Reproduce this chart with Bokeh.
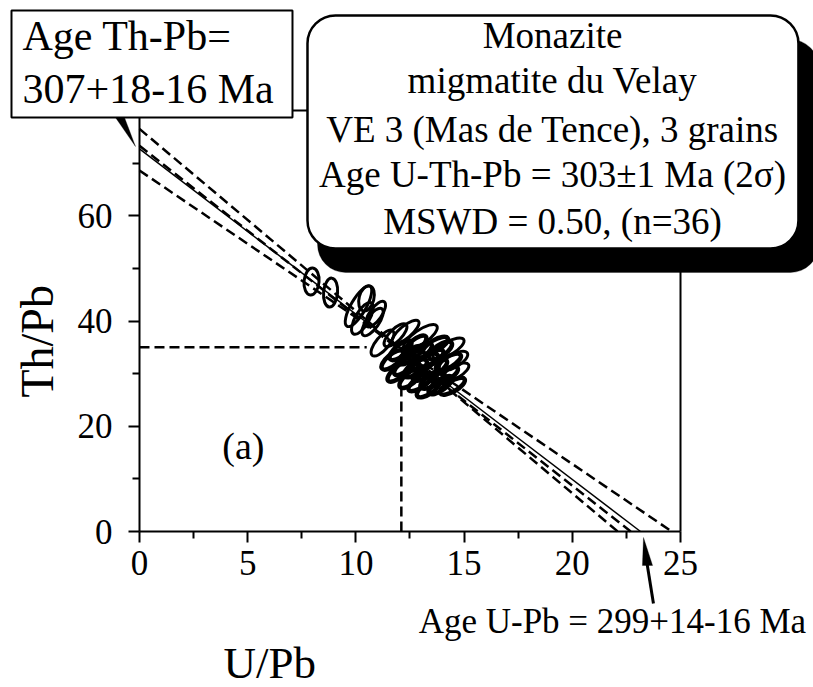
from bokeh.plotting import figure
from bokeh.models import (Label, BoxAnnotation, PolyAnnotation, Arrow, FixedTicker,
                          ColumnDataSource, Range1d, LinearAxis)
from bokeh.embed import file_html
from bokeh.resources import INLINE

# ---------------- data ----------------
# error ellipses along the trend (centre U/Pb, centre Th/Pb, axis lengths, tilt in deg)
ell_x = [7.95, 8.83, 10.12, 10.30, 10.91, 11.23, 11.83, 12.29, 12.98, 14.28, 14.51, 14.60,
         10.49, 10.77]
ell_y = [47.5, 45.4, 42.8, 40.5, 41.3, 35.8, 37.3, 37.9, 36.9, 34.8, 32.4, 30.3,
         44.3, 39.8]
ell_w = [1.25, 1.34, 2.13, 1.66, 1.39, 1.48, 1.39, 1.57, 1.85, 1.62, 1.48, 1.39,
         1.20, 1.50]
ell_h = [2.85, 2.66, 2.85, 2.66, 2.28, 2.47, 2.28, 2.28, 2.66, 2.47, 2.47, 2.28,
         2.80, 2.40]
ell_angle = [85, 85, 60, 60, 55, 50, 45, 40, 35, 30, 30, 30,
             75, 55]

# dense group of overlapping ellipses around the centroid
blob_x = [12.06, 12.52, 12.98, 13.45, 13.91, 12.29, 12.75, 13.22, 13.68, 14.14, 12.52,
          12.98, 13.54, 13.91, 11.97, 13.22, 12.75, 13.68, 11.69, 14.28, 13.35, 14.46]
blob_y = [34.4, 33.5, 34.1, 32.9, 34.4, 31.6, 31.0, 30.3, 31.0, 29.7, 29.1,
          28.4, 28.7, 27.8, 30.3, 32.2, 35.4, 35.4, 32.6, 32.2, 27.2, 27.6]
blob_w = [1.25, 1.30, 1.25, 1.35, 1.25, 1.30, 1.25, 1.35, 1.25, 1.30, 1.25,
          1.30, 1.25, 1.30, 1.25, 1.30, 1.25, 1.30, 1.25, 1.30, 1.25, 1.30]
blob_h = [2.10, 2.00, 2.10, 2.00, 2.10, 2.00, 2.10, 2.00, 2.10, 2.00, 2.10,
          2.00, 2.10, 2.00, 2.10, 2.00, 2.10, 2.00, 2.10, 2.00, 2.10, 2.00]
blob_angle = [40, 35, 35, 30, 35, 40, 35, 30, 35, 30, 40,
              35, 30, 35, 40, 30, 40, 30, 40, 30, 35, 30]

# regression line (solid) and dashed lines: Th/Pb intercept and U/Pb intercept
reg_y0 = [72.7]
reg_x0 = [23.15]
dash_y0 = [76.5, 73.3, 68.6]
dash_x0 = [22.1, 22.7, 24.6]

# dashed guides to the centroid
guide_h_x = [0, 10.5]
guide_h_y = [35, 35]
guide_v_x = [12.1, 12.1]
guide_v_y = [0, 28.5]

x_ticks = [0, 5, 10, 15, 20, 25]
x_minor = [2.5, 7.5, 12.5, 17.5, 22.5]
y_ticks = [0, 20, 40, 60]
y_minor = [10, 30, 50, 70]
x_bounds = (0, 25)
y_bounds = (0, 80)

FONT = "Liberation Serif"

# the drawing area covers the whole canvas; the axes sit at fixed data locations
p = figure(width=813, height=687,
           x_range=Range1d(-6.423, 31.146), y_range=Range1d(-29.64, 100.90),
           output_backend="svg", toolbar_location=None,
           min_border=0, min_border_left=0, min_border_right=0,
           min_border_top=0, min_border_bottom=0)
p.grid.visible = False
p.outline_line_color = None

xax = p.below[0]
yax = p.left[0]
xax.fixed_location = y_bounds[0]
yax.fixed_location = x_bounds[0]
xax.bounds = x_bounds
yax.bounds = y_bounds
xax.ticker = FixedTicker(ticks=x_ticks, minor_ticks=x_minor)
yax.ticker = FixedTicker(ticks=y_ticks, minor_ticks=y_minor)

top_axis = LinearAxis(fixed_location=y_bounds[1], bounds=x_bounds,
                      ticker=FixedTicker(ticks=[], minor_ticks=[]),
                      major_label_text_font_size="0px")
right_axis = LinearAxis(fixed_location=x_bounds[1], bounds=y_bounds,
                        ticker=FixedTicker(ticks=[], minor_ticks=[]),
                        major_label_text_font_size="0px")
p.add_layout(top_axis, "above")
p.add_layout(right_axis, "right")

for ax in (xax, yax, top_axis, right_axis):
    ax.axis_line_width = 2
    ax.axis_line_color = "black"
    ax.major_tick_line_width = 2
    ax.minor_tick_line_width = 2
    ax.major_tick_line_color = "black"
    ax.minor_tick_line_color = "black"
    ax.major_tick_in = 0
    ax.major_tick_out = 11
    ax.minor_tick_in = 0
    ax.minor_tick_out = 7
    ax.major_label_text_font = FONT
    ax.major_label_text_color = "black"
xax.major_label_text_font_size = "35px"
yax.major_label_text_font_size = "35px"
xax.major_label_standoff = 8
yax.major_label_standoff = 16

# lines
line_src = ColumnDataSource(dict(xs=[[0, x] for x in dash_x0], ys=[[y, 0] for y in dash_y0]))
p.multi_line("xs", "ys", source=line_src, line_color="black", line_width=2.5, line_dash="10 5")
reg_src = ColumnDataSource(dict(xs=[[0, x] for x in reg_x0], ys=[[y, 0] for y in reg_y0]))
p.multi_line("xs", "ys", source=reg_src, line_color="black", line_width=1.5)
p.line(guide_h_x, guide_h_y, line_color="black", line_width=2.5, line_dash="10 5")
p.line(guide_v_x, guide_v_y, line_color="black", line_width=2.5, line_dash="10 5")

# ellipses
ell_src = ColumnDataSource(dict(x=ell_x, y=ell_y, w=ell_w, h=ell_h, a=ell_angle))
p.ellipse(x="x", y="y", width="w", height="h", angle="a", angle_units="deg", source=ell_src,
          fill_color=None, line_color="black", line_width=3)
blob_src = ColumnDataSource(dict(x=blob_x, y=blob_y, w=blob_w, h=blob_h, a=blob_angle))
p.ellipse(x="x", y="y", width="w", height="h", angle="a", angle_units="deg", source=blob_src,
          fill_color=None, line_color="black", line_width=4.5)

# panel label
p.add_layout(Label(x=4.8, y=16.2, text="(a)", text_align="center", text_baseline="alphabetic",
                   text_font=FONT, text_font_size="38px", text_color="black"))

# axis titles
p.add_layout(Label(x=3.88, y=-24.9, text="U/Pb", text_align="left", text_baseline="alphabetic",
                   text_font=FONT, text_font_size="45px", text_color="black"))
p.add_layout(Label(x=-4.71, y=25.46, text="Th/Pb", text_align="left", text_baseline="alphabetic",
                   angle=90, angle_units="deg",
                   text_font=FONT, text_font_size="46px", text_color="black"))

# Th-Pb age box
p.add_layout(BoxAnnotation(left=-5.915, right=7.07, bottom=78.67, top=99.0,
                           fill_color="white", fill_alpha=1.0, line_color="black",
                           line_width=2, line_alpha=1.0))
for txt, yb in (("Age Th-Pb=", 94.06), ("307+18-16 Ma", 83.99)):
    p.add_layout(Label(x=-5.407, y=yb, text=txt, text_align="left", text_baseline="alphabetic",
                       text_font=FONT, text_font_size="42px", text_color="black"))
p.add_layout(PolyAnnotation(xs=[-1.109, -0.693, -0.185], ys=[78.67, 78.67, 73.16],
                            fill_color="black", fill_alpha=1.0, line_color="black", line_width=1))

# main info box with shadow
p.add_layout(BoxAnnotation(left=8.226, right=31.38, bottom=49.22, top=93.49,
                           fill_color="black", fill_alpha=1.0, line_color="black",
                           border_radius=28))
p.add_layout(BoxAnnotation(left=7.763, right=30.45, bottom=53.78, top=98.05,
                           fill_color="white", fill_alpha=1.0, line_color="black",
                           line_width=2.5, line_alpha=1.0, border_radius=28))
info = ["Monazite", "migmatite du Velay", "VE 3 (Mas de Tence), 3 grains",
        "Age U-Th-Pb = 303\u00b11 Ma (2\u03c3)", "MSWD = 0.50, (n=36)"]
info_y = [94.25, 85.70, 76.48, 67.93, 59.00]
for txt, yb in zip(info, info_y):
    p.add_layout(Label(x=19.085, y=yb, text=txt, text_align="center", text_baseline="alphabetic",
                       text_font=FONT, text_font_size="37px", text_color="black"))

# U-Pb age annotation with arrow
p.add_layout(Arrow(end=None, x_start=23.75, y_start=-13.68, x_end=23.45, y_end=-6.0,
                   line_color="black", line_width=3))
p.add_layout(PolyAnnotation(xs=[23.24, 23.71, 23.29], ys=[-6.46, -6.46, -1.14],
                            fill_color="black", fill_alpha=1.0, line_color="black", line_width=1))
p.add_layout(Label(x=12.9, y=-17.1, text="Age U-Pb = 299+14-16 Ma", text_align="left",
                   text_baseline="alphabetic", text_font=FONT, text_font_size="35px",
                   text_color="black"))

open("out.html", "w").write(file_html(p, INLINE))
